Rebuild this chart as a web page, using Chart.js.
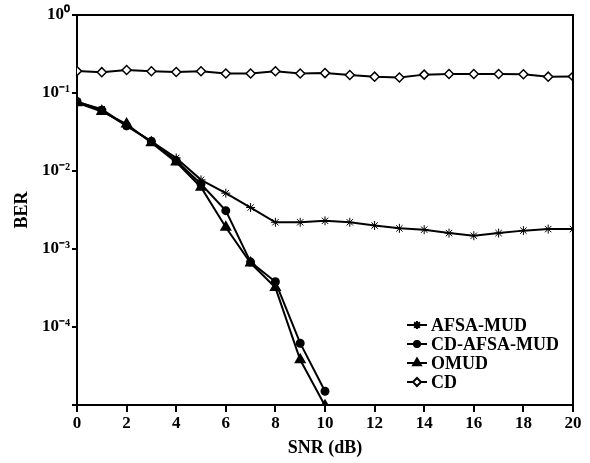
<!DOCTYPE html>
<html>
<head>
<meta charset="utf-8">
<script src="https://cdn.jsdelivr.net/npm/chart.js@4/dist/chart.umd.min.js"></script>
<style>
  html, body { margin: 0; padding: 0; background: #fff; }
  #wrap { width: 590px; height: 463px; }
</style>
</head>
<body>
<div id="wrap"><canvas id="berChart" width="590" height="463"></canvas></div>
<script>
const snr = [0, 1, 2, 3, 4, 5, 6, 7, 8, 9, 10, 11, 12, 13, 14, 15, 16, 17, 18, 19, 20];
const afsaMud = [0.077, 0.062, 0.038, 0.024, 0.0147, 0.0077, 0.0052, 0.0034, 0.0022, 0.0022, 0.0023, 0.0022, 0.0020, 0.00184, 0.00177, 0.0016, 0.00148, 0.0016, 0.00172, 0.0018, 0.0018];
const cdAfsaMud = [0.078, 0.060, 0.038, 0.024, 0.0135, 0.0068, 0.0031, 0.00068, 0.00038, 0.000062, 0.000015];
const omud = [0.075, 0.058, 0.040, 0.023, 0.013, 0.0062, 0.0019, 0.00066, 0.00032, 0.000038, 0.0000098];
const cd = [0.191, 0.185, 0.197, 0.19, 0.186, 0.19, 0.178, 0.178, 0.19, 0.178, 0.18, 0.17, 0.162, 0.158, 0.172, 0.175, 0.175, 0.175, 0.174, 0.162, 0.163];
const yDecades = [1e-5, 1e-4, 1e-3, 1e-2, 1e-1, 1];
const yTickLabels = ['', '10\u207B\u2074', '10\u207B\u00B3', '10\u207B\u00B2', '10\u207B\u00B9', '10\u2070'];
const xTicks = [0, 2, 4, 6, 8, 10, 12, 14, 16, 18, 20];

const serif = "'Liberation Serif', 'Times New Roman', serif";

function pts(ys) {
  return ys.map((y, i) => ({ x: snr[i], y: y }));
}

// frame on top and right, legend inside the plot
const framePlugin = {
  id: 'frame',
  afterDraw(chart) {
    const { ctx, chartArea: a } = chart;
    ctx.save();
    ctx.strokeStyle = '#000';
    ctx.lineWidth = 2;
    ctx.beginPath();
    ctx.moveTo(a.left, a.top);
    ctx.lineTo(a.right, a.top);
    ctx.lineTo(a.right, a.bottom);
    ctx.stroke();

    // legend
    const x0 = 407, x1 = 427, tx = 431;
    let y = 325;
    chart.data.datasets.forEach(ds => {
      ctx.strokeStyle = '#000';
      ctx.lineWidth = 2;
      ctx.beginPath();
      ctx.moveTo(x0, y);
      ctx.lineTo(x1, y);
      ctx.stroke();
      ctx.fillStyle = ds.pointBackgroundColor;
      Chart.helpers.drawPoint(ctx, {
        pointStyle: ds.pointStyle,
        radius: ds.pointRadius - 0.5,
        borderWidth: ds.pointBorderWidth || 1,
        rotation: 0
      }, (x0 + x1) / 2, y);
      ctx.fillStyle = '#000';
      ctx.font = 'bold 18px ' + serif;
      ctx.textBaseline = 'middle';
      ctx.textAlign = 'left';
      ctx.fillText(ds.label, tx, y + 1);
      y += 19;
    });
    ctx.restore();
  }
};

const ctx = document.getElementById('berChart').getContext('2d');
new Chart(ctx, {
  type: 'line',
  data: {
    datasets: [
      {
        label: 'AFSA-MUD',
        data: pts(afsaMud),
        borderColor: '#000',
        borderWidth: 2,
        pointStyle: 'star',
        pointRadius: 4.5,
        pointBorderWidth: 1,
        pointBorderColor: '#000',
        pointBackgroundColor: '#fff'
      },
      {
        label: 'CD-AFSA-MUD',
        data: pts(cdAfsaMud),
        borderColor: '#000',
        borderWidth: 2,
        pointStyle: 'circle',
        pointRadius: 3.5,
        pointBorderColor: '#000',
        pointBackgroundColor: '#000'
      },
      {
        label: 'OMUD',
        data: pts(omud),
        borderColor: '#000',
        borderWidth: 2,
        pointStyle: 'triangle',
        pointRadius: 5,
        pointBorderColor: '#000',
        pointBackgroundColor: '#000'
      },
      {
        label: 'CD',
        data: pts(cd),
        borderColor: '#000',
        borderWidth: 2,
        pointStyle: 'rectRot',
        pointRadius: 4.5,
        pointBorderWidth: 1.5,
        pointBorderColor: '#000',
        pointBackgroundColor: '#fff'
      }
    ]
  },
  options: {
    responsive: false,
    animation: false,
    layout: { padding: { top: 15, right: 17, left: 0, bottom: 0 } },
    plugins: {
      legend: { display: false },
      tooltip: { enabled: false }
    },
    scales: {
      x: {
        type: 'linear',
        min: 0,
        max: 20,
        afterBuildTicks: axis => { axis.ticks = xTicks.map(v => ({ value: v })); },
        afterFit: scale => { scale.height = 58; },
        ticks: {
          color: '#000',
          padding: 1,
          maxRotation: 0,
          font: { family: serif, size: 17, weight: 'bold' }
        },
        grid: {
          display: true,
          drawOnChartArea: false,
          drawTicks: true,
          tickLength: 7,
          color: '#000',
          lineWidth: 2
        },
        border: { display: true, color: '#000', width: 2 },
        title: {
          display: true,
          text: 'SNR (dB)',
          color: '#000',
          padding: { top: 0, bottom: 4 },
          font: { family: serif, size: 18, weight: 'bold' }
        }
      },
      y: {
        type: 'logarithmic',
        min: 1e-5,
        max: 1,
        afterBuildTicks: axis => { axis.ticks = yDecades.map(v => ({ value: v })); },
        afterFit: scale => { scale.width = 77; },
        ticks: {
          color: '#000',
          padding: 2,
          font: { family: serif, size: 17, weight: 'bold' },
          callback: function (value) {
            const i = yDecades.findIndex(d => Math.abs(Math.log10(d) - Math.log10(value)) < 1e-6);
            return i >= 0 ? yTickLabels[i] : '';
          }
        },
        grid: {
          display: true,
          drawOnChartArea: false,
          drawTicks: true,
          tickLength: 5,
          color: '#000',
          lineWidth: 2
        },
        border: { display: true, color: '#000', width: 2 },
        title: {
          display: true,
          text: 'BER',
          color: '#000',
          padding: { top: 12, bottom: 0 },
          font: { family: serif, size: 18, weight: 'bold' }
        }
      }
    }
  },
  plugins: [framePlugin]
});
</script>
</body>
</html>
